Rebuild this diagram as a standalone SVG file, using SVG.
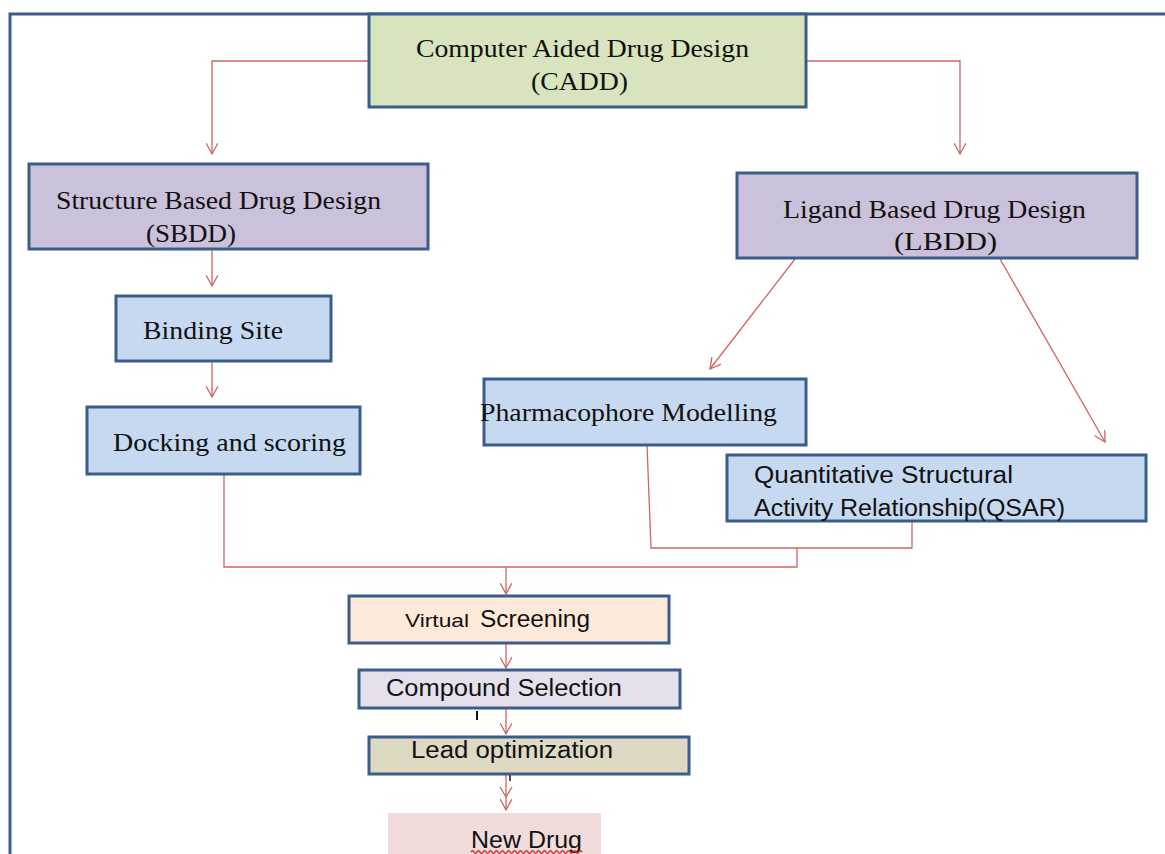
<svg xmlns="http://www.w3.org/2000/svg" width="1165" height="854" viewBox="0 0 1165 854">
<style>
.box{stroke:#3a5e8c;stroke-width:3}
.ser{font-family:"Liberation Serif","Times New Roman",serif;font-size:26px;fill:#111}
.san{font-family:"Liberation Sans",Arial,sans-serif;font-size:23px;fill:#111}
.con{fill:none;stroke:#d06464;stroke-width:1.3}
</style>
<defs>
<marker id="ah" viewBox="0 0 12 12" refX="11" refY="6" markerWidth="12" markerHeight="12" markerUnits="userSpaceOnUse" orient="auto">
<path d="M0,0 L11,6 L0,12" fill="none" stroke="#d06464" stroke-width="1.3"/>
</marker>
</defs>
<rect width="1165" height="854" fill="#fff"/>
<g id="frame"><path d="M10,854 V14 H1165" fill="none" stroke="#3a5e8c" stroke-width="3"/></g>
<g id="connectors">
<path class="con" d="M369,61 H212 V154" marker-end="url(#ah)"/>
<path class="con" d="M806,61 H960 V154" marker-end="url(#ah)"/>
<path class="con" d="M212,249 V286" marker-end="url(#ah)"/>
<path class="con" d="M212,361 V397" marker-end="url(#ah)"/>
<path class="con" d="M795,259 L710,369" marker-end="url(#ah)"/>
<path class="con" d="M1000,259 L1105,442" marker-end="url(#ah)"/>
<path class="con" d="M224,474 V567 H797 V548"/>
<path class="con" d="M647,445 L651,548 H912 V521"/>
<path class="con" d="M506,567 V594" marker-end="url(#ah)"/>
<path class="con" d="M506,643 V668" marker-end="url(#ah)"/>
<path class="con" d="M506,708 V734" marker-end="url(#ah)"/>
<path class="con" d="M506,774 V810" marker-end="url(#ah)"/>
<path class="con" d="M500,787 L506,797 L512,787"/>
<line x1="477" y1="711" x2="477" y2="720" stroke="#111" stroke-width="2"/>
<line x1="510" y1="775" x2="510" y2="781" stroke="#111" stroke-width="1.5"/>
</g>
<g id="cadd">
<rect class="box" x="369" y="14" width="437" height="93" fill="#d7e4bd"/>
<text class="ser" x="416" y="57" textLength="333" lengthAdjust="spacingAndGlyphs">Computer Aided Drug Design</text>
<text class="ser" x="531" y="90" textLength="97" lengthAdjust="spacingAndGlyphs">(CADD)</text>
</g>
<g id="sbdd">
<rect class="box" x="29" y="164" width="399" height="85" fill="#ccc1da"/>
<text class="ser" x="56" y="209" textLength="325" lengthAdjust="spacingAndGlyphs">Structure Based Drug Design</text>
<text class="ser" x="146" y="242" textLength="90" lengthAdjust="spacingAndGlyphs">(SBDD)</text>
</g>
<g id="lbdd">
<rect class="box" x="737" y="173" width="400" height="85" fill="#ccc1da"/>
<text class="ser" x="783" y="218" textLength="303" lengthAdjust="spacingAndGlyphs">Ligand Based Drug Design</text>
<text class="ser" x="894" y="250" textLength="103" lengthAdjust="spacingAndGlyphs">(LBDD)</text>
</g>
<g id="binding">
<rect class="box" x="116" y="296" width="215" height="65" fill="#c6d9f1"/>
<text class="ser" x="143" y="339" textLength="140" lengthAdjust="spacingAndGlyphs">Binding Site</text>
</g>
<g id="docking">
<rect class="box" x="87" y="407" width="273" height="67" fill="#c6d9f1"/>
<text class="ser" x="113" y="451" textLength="233" lengthAdjust="spacingAndGlyphs">Docking and scoring</text>
</g>
<g id="pharmacophore">
<rect class="box" x="484" y="379" width="322" height="66" fill="#c6d9f1"/>
<text class="ser" x="480" y="421" textLength="297" lengthAdjust="spacingAndGlyphs">Pharmacophore Modelling</text>
</g>
<g id="qsar">
<rect class="box" x="727" y="455" width="419" height="66" fill="#c6d9f1"/>
<text class="san" x="754" y="483" textLength="259" lengthAdjust="spacingAndGlyphs">Quantitative Structural</text>
<text class="san" x="754" y="516" textLength="311" lengthAdjust="spacingAndGlyphs">Activity Relationship(QSAR)</text>
</g>
<g id="virtual">
<rect class="box" x="349" y="596" width="320" height="47" fill="#fde9d9"/>
<text class="san" x="405" y="627" style="font-size:19px" textLength="64" lengthAdjust="spacingAndGlyphs">Virtual</text>
<text class="san" x="480" y="627" textLength="110" lengthAdjust="spacingAndGlyphs">Screening</text>
</g>
<g id="compound">
<rect class="box" x="359" y="670" width="321" height="38" fill="#e5e0ec"/>
<text class="san" x="386" y="696" textLength="236" lengthAdjust="spacingAndGlyphs">Compound Selection</text>
</g>
<g id="lead">
<rect class="box" x="369" y="737" width="320" height="37" fill="#ddd9c3"/>
<text class="san" x="411" y="758" textLength="202" lengthAdjust="spacingAndGlyphs">Lead optimization</text>
</g>
<g id="newdrug">
<rect x="388" y="813" width="213" height="45" fill="#f2dcdb"/>
<text class="san" x="471" y="848" textLength="111" lengthAdjust="spacingAndGlyphs">New Drug</text>
<path d="M471,852 q1.5,-2.5 3,0 t3,0 t3,0 t3,0 t3,0 t3,0 t3,0 t3,0 t3,0 t3,0 t3,0 t3,0 t3,0 t3,0 t3,0 t3,0 t3,0 t3,0 t3,0 t3,0 t3,0 t3,0 t3,0 t3,0 t3,0 t3,0 t3,0 t3,0 t3,0 t3,0 t3,0 t3,0 t3,0 t3,0 t3,0 t3,0 t3,0" fill="none" stroke="#e02020" stroke-width="1.4"/>
</g>
</svg>
